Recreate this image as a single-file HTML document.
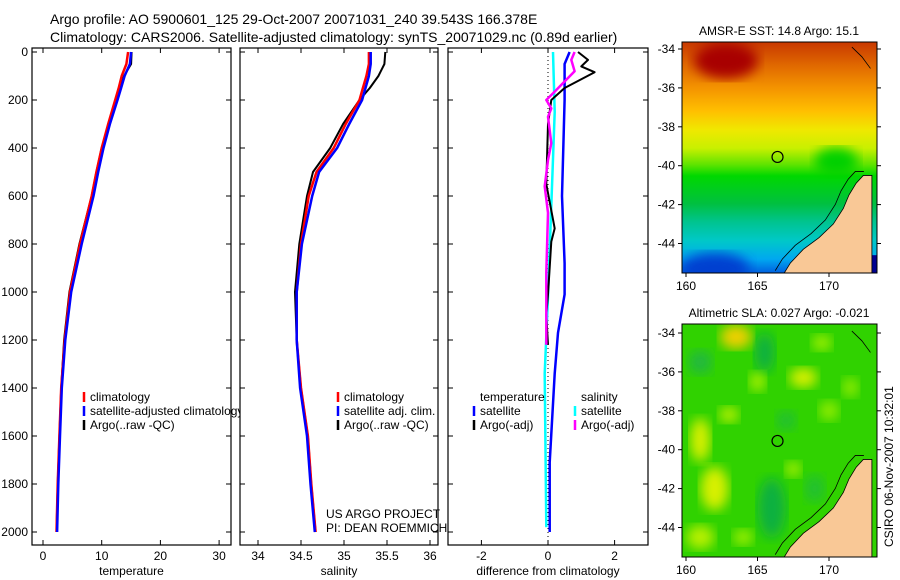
<!DOCTYPE html>
<html><head><meta charset="utf-8"><style>
html,body{margin:0;padding:0;background:#fff;}
svg{display:block;font-family:"Liberation Sans",sans-serif;}
</style></head><body>
<svg id="chart" width="900" height="580" viewBox="0 0 900 580" xmlns="http://www.w3.org/2000/svg">
<defs>
<linearGradient id="sstGrad" x1="0" y1="0" x2="0" y2="1">
<stop offset="0" stop-color="#c83800"/><stop offset="0.1" stop-color="#e06800"/>
<stop offset="0.2" stop-color="#f49400"/><stop offset="0.3" stop-color="#ffc000"/>
<stop offset="0.38" stop-color="#f0e800"/><stop offset="0.46" stop-color="#c8f000"/>
<stop offset="0.53" stop-color="#60e400"/><stop offset="0.58" stop-color="#00d800"/>
<stop offset="0.7" stop-color="#00c040"/>
<stop offset="0.78" stop-color="#00c490"/><stop offset="0.86" stop-color="#00c8c8"/>
<stop offset="0.94" stop-color="#00a8f0"/><stop offset="1" stop-color="#0060e0"/>
</linearGradient>
<filter id="blur6"><feGaussianBlur stdDeviation="6"/></filter>
<clipPath id="clipTop"><rect x="682" y="42" width="195" height="231"/></clipPath>
<clipPath id="clipBot"><rect x="682" y="324" width="195" height="233"/></clipPath>
</defs>
<g id="titles" font-size="14" fill="#000">
<text x="50" y="24">Argo profile: AO 5900601_125 29-Oct-2007 20071031_240 39.543S 166.378E</text>
<text x="50" y="42">Climatology: CARS2006. Satellite-adjusted climatology: synTS_20071029.nc (0.89d earlier)</text>
</g>
<g id="panels"></g>
<g id="maps"></g>
<text font-size="12" transform="translate(893,547) rotate(-90)">CSIRO 06-Nov-2007 10:32:01</text>
</svg>
<script>
// ---- data ----
const depths = [0,50,100,150,200,300,400,500,600,800,1000,1200,1400,1600,1800,2000];
const tempClim = [14.5,14.2,13.4,12.9,12.3,11.1,10.0,9.1,8.3,6.3,4.6,3.7,3.1,2.8,2.5,2.3];
const tempSat  = [15.0,14.8,13.9,13.3,12.7,11.4,10.3,9.4,8.6,6.6,4.8,3.8,3.2,2.9,2.6,2.4];
const tempArgo = [15.1,15.0,13.8,13.0,12.5,11.2,10.0,9.1,8.3,6.2,4.5,3.6,3.1,2.8,2.5,2.3];
const salClim = [35.29,35.29,35.26,35.22,35.18,35.02,34.88,34.68,34.59,34.50,34.45,34.45,34.50,34.58,34.62,34.67];
const salSat  = [35.31,35.31,35.29,35.25,35.21,35.06,34.92,34.71,34.63,34.51,34.45,34.45,34.49,34.57,34.61,34.66];
const salArgo = [35.48,35.47,35.40,35.30,35.18,34.99,34.84,34.64,34.57,34.48,34.43,34.45,34.50,34.58,34.62,34.67];
const diffTempSatDepth = [0,50,200,600,880,1010,1170,1340,1710,2000];
const diffTempSat = [0.65,0.5,0.5,0.42,0.5,0.5,0.3,0.2,0.05,0.05];
const diffTempArgoDepth = [0,33,60,84,150,200,300,550,735,790,1010,1095,1220];
const diffTempArgo = [0.9,1.2,1.0,1.4,0.5,0.1,0.0,-0.05,0.2,0.1,0.0,-0.05,0.0];
const diffSalSatDepth = [0,250,640,1020,1340,1980];
const diffSalSat = [0.15,0.2,0.1,0.0,-0.1,-0.05];
const diffSalArgoDepth = [0,33,80,165,200,235,270,380,450,560,670,920,1220];
const diffSalArgo = [0.8,0.7,0.8,0.2,-0.05,0.1,0.0,0.1,0.0,-0.1,0.0,-0.05,-0.05];
const depthTicks = [0,200,400,600,800,1000,1200,1400,1600,1800,2000];
const tempTicks = [0,10,20,30];
const salTicks = [34,34.5,35,35.5,36];
const diffTicks = [-2,0,2];
const lonTicks = [160,165,170];
const latTicks = [-34,-36,-38,-40,-42,-44];

const NS='http://www.w3.org/2000/svg';
function mk(tag,attrs,parent){const e=document.createElementNS(NS,tag);for(const k in attrs)e.setAttribute(k,attrs[k]);parent.appendChild(e);return e;}
const yD = d => 52 + d*0.24;
const panelsG = document.getElementById('panels');

function panel(name,x0,x1,xs,ticks,label,series,showY,fmt){
  const g = mk('g',{},panelsG);
  
  
  const bg = mk('rect',{x:x0,y:48,width:x1-x0,height:497,fill:'#fff',stroke:'none'},g);
  
  
  return {g,x0,x1,xs,ticks,label,series,showY,fmt};
}
function finishPanel(p){
  const g=p.g;
  p.series.forEach(s=>{
    const pts=s.d.map((d,i)=>p.xs(s.v[i]).toFixed(1)+','+yD(d).toFixed(1)).join(' ');
    const l=mk('polyline',{points:pts,fill:'none',stroke:s.c,'stroke-width':s.w||2.5,'stroke-linejoin':'round'},g);
    
    
  });
  const fr=mk('rect',{x:p.x0,y:48,width:p.x1-p.x0,height:497,fill:'none',stroke:'#000','stroke-width':1.2},g);
  
  
  depthTicks.forEach(d=>{
    mk('line',{x1:p.x0,x2:p.x0+5,y1:yD(d),y2:yD(d),stroke:'#000'},g);
    mk('line',{x1:p.x1,x2:p.x1-5,y1:yD(d),y2:yD(d),stroke:'#000'},g);
    if(p.showY){const t=mk('text',{x:28,y:yD(d)+4,'font-size':12,'text-anchor':'end'},g);t.textContent=d;
      
      }
  });
  p.ticks.forEach(v=>{
    const x=p.xs(v);
    mk('line',{x1:x,x2:x,y1:48,y2:53,stroke:'#000'},g);
    mk('line',{x1:x,x2:x,y1:545,y2:540,stroke:'#000'},g);
    const t=mk('text',{x:x,y:560,'font-size':12,'text-anchor':'middle'},g);t.textContent=p.fmt(v);
    
    
  });
  const xl=mk('text',{x:(p.x0+p.x1)/2,y:575,'font-size':12,'text-anchor':'middle'},g);xl.textContent=p.label;
  
  
}
function legend(g,x,y,items){
  items.forEach((it,i)=>{
    const yy=y+i*14;
    if(it.c) mk('line',{x1:x,x2:x,y1:yy-9,y2:yy+1,stroke:it.c,'stroke-width':2.5},g);
    const t=mk('text',{x:x+6,y:yy,'font-size':12},g);t.textContent=it.t;
    
    
  });
}
const xT=v=>43+v*5.87, xS=v=>258+(v-34)*86, xDf=v=>548+v*33.3;
const p1=panel('temperature',32,231,xT,tempTicks,'temperature',[
 {d:depths,v:tempArgo,c:'#000',n:'temp-argo-line',w:2},
 {d:depths,v:tempClim,c:'#f00',n:'temp-climatology-line'},
 {d:depths,v:tempSat,c:'#00f',n:'temp-satellite-line'}],true,v=>v);
finishPanel(p1);
legend(p1.g,84,401,[{c:'#f00',t:'climatology'},{c:'#00f',t:'satellite-adjusted climatology'},{c:'#000',t:'Argo(..raw -QC)'}]);
const p2=panel('salinity',240,438,xS,salTicks,'salinity',[
 {d:depths,v:salArgo,c:'#000',n:'sal-argo-line',w:2},
 {d:depths,v:salClim,c:'#f00',n:'sal-climatology-line'},
 {d:depths,v:salSat,c:'#00f',n:'sal-satellite-line'}],false,v=>v);
finishPanel(p2);
legend(p2.g,338,401,[{c:'#f00',t:'climatology'},{c:'#00f',t:'satellite adj. clim.'},{c:'#000',t:'Argo(..raw -QC)'}]);
legend(p2.g,320,518,[{t:'US ARGO PROJECT'},{t:'PI: DEAN ROEMMICH'}]);
const p3=panel('difference',448,648,xDf,diffTicks,'difference from climatology',[],false,v=>v);
mk('line',{x1:xDf(0),x2:xDf(0),y1:48,y2:545,stroke:'#000','stroke-dasharray':'1,3'},p3.g);
p3.series=[
 {d:diffSalSatDepth,v:diffSalSat,c:'#0ff',n:'diff-sal-satellite-line'},
 {d:diffTempSatDepth,v:diffTempSat,c:'#00f',n:'diff-temp-satellite-line'},
 {d:diffTempArgoDepth,v:diffTempArgo,c:'#000',n:'diff-temp-argo-line',w:2},
 {d:diffSalArgoDepth,v:diffSalArgo,c:'#f0f',n:'diff-sal-argo-line'}];
finishPanel(p3);
legend(p3.g,474,401,[{t:'temperature'},{c:'#00f',t:'satellite'},{c:'#000',t:'Argo(-adj)'}]);
legend(p3.g,575,401,[{t:'salinity'},{c:'#0ff',t:'satellite'},{c:'#f0f',t:'Argo(-adj)'}]);

// ---- maps ----
const mapsG=document.getElementById('maps');
const coast=[[166.8,-45.6],[167.3,-45],[168.2,-44.3],[169.3,-43.7],[170.3,-43],[171,-42.2],[171.4,-41.5],[171.9,-40.9],[172.4,-40.5],[173,-40.5],[173,-45.6]];
const argoLon=166.4, argoLat=-39.55;
function drawMap(name,top,bot,latTop,title,clip,bgFn){
  const g=mk('g',{},mapsG);
  
  
  const lx=lon=>686+(lon-160)*14.3;
  const ly=lat=>latTop+(-34-lat)*19.45;
  const inner=mk('g',{'clip-path':'url(#'+clip+')'},g);
  bgFn(inner,lx,ly);
  const land=mk('polygon',{points:coast.map(c=>lx(c[0])+','+ly(c[1])).join(' '),fill:'#f9c896',stroke:'#000','stroke-width':0.8},inner);
  
  
  mk('polyline',{points:coast.slice(0,10).map(c=>(lx(c[0])-8)+','+(ly(c[1])-4)).join(' '),fill:'none',stroke:'#000','stroke-width':0.8},inner);
  mk('polyline',{points:[[171.6,-33.9],[172.3,-34.4],[172.9,-35]].map(c=>lx(c[0])+','+ly(c[1])).join(' '),fill:'none',stroke:'#000','stroke-width':0.8},inner);
  const fr=mk('rect',{x:682,y:top,width:195,height:bot-top,fill:'none',stroke:'#000'},g);
  
  
  const mk1=mk('circle',{cx:lx(argoLon),cy:ly(argoLat),r:5.5,fill:'none',stroke:'#000','stroke-width':1.2},g);
  
  
  lonTicks.forEach(v=>{
    mk('line',{x1:lx(v),x2:lx(v),y1:bot,y2:bot+4,stroke:'#000'},g);
    const t=mk('text',{x:lx(v),y:bot+17,'font-size':12,'text-anchor':'middle'},g);t.textContent=v;
    
    
  });
  latTicks.forEach(v=>{
    mk('line',{x1:678,x2:682,y1:ly(v),y2:ly(v),stroke:'#000'},g);
    mk('line',{x1:877,x2:881,y1:ly(v),y2:ly(v),stroke:'#000'},g);
    const t=mk('text',{x:675,y:ly(v)+4,'font-size':12,'text-anchor':'end'},g);t.textContent=v;
    
    
  });
  const tt=mk('text',{x:779,y:top-7,'font-size':12,'text-anchor':'middle'},g);tt.textContent=title;
  
  
}
drawMap('sst-map',42,273,49,'AMSR-E SST: 14.8 Argo: 15.1','clipTop',(g,lx,ly)=>{
  mk('rect',{x:682,y:42,width:195,height:231,fill:'url(#sstGrad)'},g);
  mk('ellipse',{cx:lx(162.8),cy:ly(-34.6),rx:32,ry:18,fill:'#a80000',filter:'url(#blur6)'},g);
  mk('ellipse',{cx:lx(170.5),cy:ly(-39.8),rx:22,ry:14,fill:'#00d000',filter:'url(#blur6)'},g);
  mk('ellipse',{cx:lx(162),cy:ly(-45.3),rx:35,ry:16,fill:'#0040d0',filter:'url(#blur6)'},g);
  mk('rect',{x:lx(171.3),y:ly(-44.6),width:30,height:40,fill:'#000090'},g);
});
drawMap('sla-map',324,557,333,'Altimetric SLA: 0.027 Argo: -0.021','clipBot',(g,lx,ly)=>{
  mk('rect',{x:682,y:324,width:195,height:233,fill:'#30d200'},g);
  [[165.5,-35,10,20,'#10b040'],[166,-43,14,30,'#10b040'],[161,-35.5,12,12,'#20b840'],[167,-38.5,10,10,'#20c030'],[169,-42,10,14,'#20c030']].forEach(b=>{
    mk('ellipse',{cx:lx(b[0]),cy:ly(b[1]),rx:b[2],ry:b[3],fill:b[4],filter:'url(#blur6)'},g);
  });
  [[163.5,-34.2,16,12,'#f0d000'],[161,-39.5,10,22,'#d8f000'],[162,-42,14,22,'#d8f000'],[168.2,-36.3,14,10,'#d8f000'],[163,-38.2,10,8,'#b8f000'],[165,-36.5,8,10,'#a8f000'],[167.5,-41,8,8,'#a8f000'],[161,-44.5,14,12,'#b8f000'],[170,-38,10,10,'#90ec00'],[164,-44.5,10,8,'#a0f000'],[169.5,-34.5,10,8,'#a0f000'],[171.5,-36.8,8,10,'#90ec00']].forEach(b=>{
    mk('ellipse',{cx:lx(b[0]),cy:ly(b[1]),rx:b[2],ry:b[3],fill:b[4],filter:'url(#blur6)'},g);
  });
});
</script>
</body></html>
